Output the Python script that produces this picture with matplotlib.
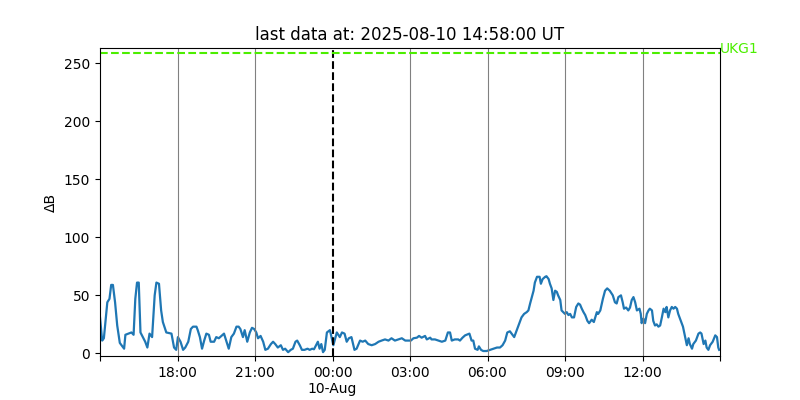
import numpy as np
import pandas as pd
import matplotlib
matplotlib.use("Agg")
import matplotlib.pyplot as plt

# minutes after 2025-08-09 15:00 UT and the delta B read at that time
minutes = [0, 5, 9, 17, 22, 26, 30, 35, 40, 46, 56, 59, 73, 78, 82, 86, 90, 94,
           105, 110, 115, 121, 127, 131, 137, 142, 146, 154, 166, 172, 177, 181,
           187, 193, 198, 205, 211, 216, 224, 227, 232, 237, 242, 247, 253, 257,
           265, 270, 276, 282, 288, 293, 299, 305, 311, 317, 322, 326, 332, 336,
           342, 348, 353, 358, 363, 367,
           373, 379, 384, 390, 397, 402, 407, 413, 420, 425, 430, 437, 443, 448,
           454, 458, 464, 469, 475, 482, 487, 493, 497, 502, 506, 510, 514, 518,
           522, 527, 534, 542, 550, 557, 562, 568, 573, 578, 584, 591, 596, 604,
           610, 616, 623, 631, 639, 647, 654, 662, 670, 677, 685, 693, 701, 709,
           716, 722, 728, 736, 741, 747, 755, 759, 767, 770, 778, 786, 794, 802,
           808, 813, 817, 824, 832, 836, 842, 848, 858, 863, 867, 871, 877, 880,
           885, 890, 898, 906, 914, 922, 929,
           935, 941, 946, 952, 959, 962, 968, 974, 979, 985, 991, 995, 999, 1003,
           1007, 1010, 1015, 1021, 1024, 1028, 1034, 1037, 1042, 1045, 1049, 1053,
           1057, 1061, 1064, 1069, 1072, 1076, 1080, 1084, 1088, 1092, 1096, 1101,
           1106, 1111, 1115, 1119, 1123, 1127, 1132, 1136, 1142, 1147, 1154, 1157,
           1162, 1168, 1173, 1178, 1184, 1191, 1196, 1200, 1204, 1210, 1214, 1217,
           1222, 1227, 1231, 1235, 1239, 1243, 1247, 1253, 1256, 1258, 1262, 1266,
           1270, 1274, 1277, 1282, 1285, 1289, 1293, 1297, 1301, 1305, 1309, 1313,
           1316, 1320, 1324, 1328, 1332, 1336, 1340, 1343, 1347, 1354, 1359, 1363,
           1367, 1370, 1375, 1378, 1384, 1390, 1394, 1397, 1402, 1406, 1409, 1413,
           1417, 1423, 1429, 1433, 1436, 1438]

dB = [31, 11, 13, 44, 47, 59, 59, 44, 24, 9, 4, 16, 18, 16, 47, 61, 61, 18,
      10, 5, 17, 14, 50, 61, 60, 37, 27, 18, 17, 5, 3, 14,
      10, 3, 5, 10, 21, 23, 23, 20, 14, 4, 11, 17, 16, 10,
      10, 14, 13, 15, 17, 11, 4, 14, 17, 23, 23, 21, 14, 20,
      10, 18, 22, 21, 18, 13,
      15, 10, 3, 4, 8, 10, 8, 5, 7, 3, 4, 1, 3, 4,
      10, 11, 7, 3, 3, 4, 3, 4, 3.5, 7, 10, 4, 8, 1,
      3, 18, 20, 7, 18, 14, 18, 17, 10, 13, 14, 3, 4, 11,
      10, 11, 8, 7, 8, 10, 11, 12, 11, 13, 11, 12, 13, 11,
      11, 11, 13, 13.5, 15, 13.5, 15, 12, 13.5, 12, 12, 11, 10, 11,
      18, 18, 11, 12, 12, 11, 13.5, 15.5, 17, 11, 11, 4, 3, 6,
      3, 2, 2, 3, 4, 5, 5,
      7, 11, 18, 19, 15.5, 14, 20, 26, 31, 34, 35.5, 37, 43, 48.5,
      54, 61, 66, 66, 60, 64, 66, 66.5, 64, 60, 56, 46,
      54, 53, 50, 46, 37, 35.5, 34, 35.5, 33, 34, 31, 31,
      40, 43, 42, 38.5, 35.5, 33, 28, 26, 29, 27, 35.5, 34,
      37, 47, 54, 56, 54, 50, 44, 43, 48.5, 50, 44, 38.5,
      39.5, 37, 39.5, 46, 48.5, 44, 37, 38.5, 34, 26, 30, 26,
      34, 37, 38.5, 37, 28, 24, 25, 23, 24, 31, 38.5, 35.5,
      40, 31, 37, 40, 38.5, 40, 38.5, 34, 30, 23, 14, 7,
      13, 8, 4, 8, 11, 17, 18, 17, 8, 11, 5, 3,
      7, 10, 15.5, 14, 5, 3]

threshold = 259
station = "UKG1"
start = pd.Timestamp("2025-08-09 15:00")
end = pd.Timestamp("2025-08-10 15:00")
midnight = pd.Timestamp("2025-08-10 00:00")
grid_times = ["2025-08-09 18:00", "2025-08-09 21:00", "2025-08-10 03:00",
              "2025-08-10 06:00", "2025-08-10 09:00", "2025-08-10 12:00"]

times = start + pd.to_timedelta(minutes, unit="min")

fig, ax = plt.subplots(figsize=(8, 4), dpi=100)
ax.plot(times, dB, color="C0", lw=1.6)

for g in grid_times:
    ax.axvline(pd.Timestamp(g), color="grey", lw=0.8)
ax.axvline(midnight, color="black", ls="--", lw=1.5)

ax.axhline(threshold, color="#4cee00", ls="--", lw=1.5)
ax.text(end, threshold, station, color="#4cee00", va="baseline", ha="left",
        fontsize=10, clip_on=False)

ticks = pd.date_range(start, end, freq="3h")
labels = []
for t in ticks:
    if t == start or t == end:
        labels.append("")
    elif t == midnight:
        labels.append("00:00\n10-Aug")
    else:
        labels.append(t.strftime("%H:%M"))
ax.set_xticks(ticks)
ax.set_xticklabels(labels)

ax.set_xlim(start, end)
ax.set_ylim(-2.3, 263.3)
ax.set_ylabel("ΔB")
ax.set_title("last data at: 2025-08-10 14:58:00 UT")

fig.savefig("out.png")
